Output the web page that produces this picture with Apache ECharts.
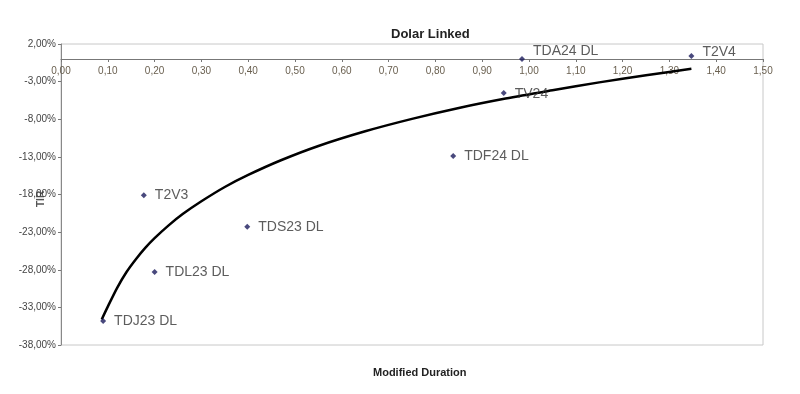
<!DOCTYPE html>
<html>
<head>
<meta charset="utf-8">
<script src="https://cdn.jsdelivr.net/npm/echarts@6/dist/echarts.min.js"></script>
<style>html,body{margin:0;padding:0;background:#fff}#c{width:800px;height:394px}</style>
</head>
<body>
<div id="c"></div>
<script>
// Bonds: name, modified duration, TIR (%)
const bondNames = ['TDJ23 DL','TDL23 DL','T2V3','TDS23 DL','TDF24 DL','TV24','TDA24 DL','T2V4'];
const bondDuration = [0.09, 0.20, 0.177, 0.398, 0.838, 0.946, 0.985, 1.347];
const bondTir = [-34.8, -28.3, -18.1, -22.3, -12.9, -4.5, 0.0, 0.4];
// Trendline
const trendX = [0.087, 0.10, 0.12, 0.14, 0.16, 0.18, 0.20, 0.23, 0.26, 0.30, 0.35, 0.40, 0.47, 0.55, 0.65, 0.75, 0.85, 0.95, 1.05, 1.15, 1.25, 1.347];
const trendY = [-34.6, -32.9, -30.4, -28.3, -26.6, -25.1, -23.8, -22.1, -20.6, -18.9, -17.0, -15.4, -13.45, -11.55, -9.6, -7.95, -6.5, -5.25, -4.15, -3.1, -2.15, -1.3];
// Tick labels
const yTicks = [-38, -33, -28, -23, -18, -13, -8, -3, 2];

const labelOffsets = {'TDA24 DL':[0,-8], 'T2V4':[0,-4], 'TV24':[0,1]};
const fmt = v => v.toFixed(2).replace('.', ',');

const chart = echarts.init(document.getElementById('c'), null, {renderer:'canvas'});
chart.setOption({
  animation: false,
  backgroundColor: '#fff',
  title: {
    text: 'Dolar Linked', left: 386, top: 23,
    textStyle: {fontFamily: 'Liberation Sans, Arial', fontSize: 13, fontWeight: 'bold', color: '#222'}
  },
  grid: {left: 61, right: 37, top: 44, bottom: 49, show: true, borderColor: '#c8c8c8', borderWidth: 1},
  xAxis: {
    type: 'value', min: 0, max: 1.5, interval: 0.1,
    position: 'top', offset: -15,
    axisLine: {onZero: false, lineStyle: {color: '#777', width: 1}},
    axisTick: {show: true, inside: true, length: 3, lineStyle: {color: '#777'}},
    axisLabel: {inside: true, formatter: v => fmt(v), fontSize: 10, color: '#6a6050', margin: 7, fontFamily: 'Liberation Sans, Arial'},
    splitLine: {show: false}
  },
  yAxis: {
    type: 'value', min: -38, max: 2,
    axisLine: {show: true, onZero: false, lineStyle: {color: '#888', width: 1}},
    axisTick: {show: true, length: 3, customValues: yTicks, lineStyle: {color: '#777'}},
    axisLabel: {customValues: yTicks, formatter: v => fmt(v) + '%', fontSize: 10, color: '#444', margin: 5, fontFamily: 'Liberation Sans, Arial'},
    splitLine: {show: false}
  },
  graphic: [
    {type: 'text', left: 373, top: 367, style: {text: 'Modified Duration', font: 'bold 11px Liberation Sans, Arial', fill: '#222'}},
    {type: 'text', x: 36, y: 207, rotation: Math.PI/2, style: {text: 'TIR', font: 'bold 10px Liberation Sans, Arial', fill: '#555'}}
  ],
  series: [
    {
      type: 'line', smooth: 0.3, showSymbol: false, silent: true,
      data: trendX.map((x, i) => [x, trendY[i]]),
      lineStyle: {color: '#000', width: 2.5}, z: 3
    },
    {
      type: 'scatter', symbol: 'diamond', symbolSize: 6, z: 4,
      itemStyle: {color: '#1c1c5c'},
      data: bondNames.map((n, i) => ({
        name: n, value: [bondDuration[i], bondTir[i]],
        label: {offset: labelOffsets[n] || [0, 0]}
      })),
      label: {
        show: true, position: 'right', distance: 8, formatter: p => p.name,
        fontSize: 14, color: '#333', fontFamily: 'Liberation Sans, Arial'
      }
    }
  ]
});
</script>
</body>
</html>
